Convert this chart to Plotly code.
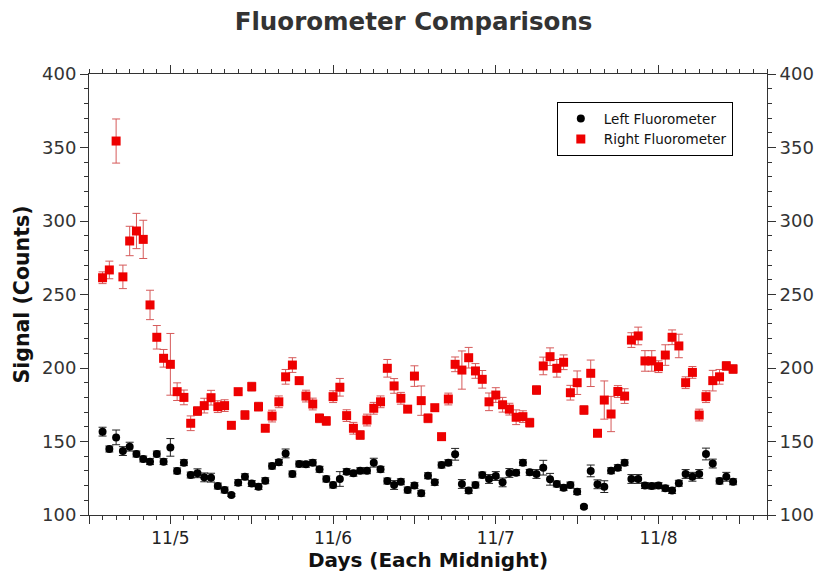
import pandas as pd
import plotly.graph_objects as go

# hourly sample times
times = pd.date_range("2011-11-04 14:00", periods=94, freq="h")

right_vals = [261.4, 266.7, 354.4, 262, 286.4, 293.2, 287.5, 242.9, 220.9, 206.6,
              202.5, 183.9, 180, 162.4, 170.7, 174.4, 179.8, 173.7, 174.4, 161,
              183.9, 168, 187.3, 173.7, 159, 167.3, 177, 194, 202, 191.4,
              180.9, 175.5, 165.8, 164, 180.5, 186.9, 167.6, 159, 154.4, 164.6,
              172.6, 177, 199.8, 187.8, 179.4, 172, 194.5, 177.8, 165.8, 173,
              153.3, 178.9, 202.5, 198.6, 207, 198, 192.3, 177, 181.6, 175,
              172, 166.5, 166.9, 162.8, 185, 201.4, 207.7, 199.8, 203.9, 183.2,
              190, 171.4, 196.4, 155.6, 178.2, 168.7, 184, 180.9, 219, 221.8,
              204.8, 204.8, 200.9, 208.8, 220.9, 215, 190, 197, 168, 180.5,
              191.4, 194, 201.4, 199.3]
right_err = [4, 6, 15, 8, 10, 12, 13, 10, 8, 6,
             21, 6, 5, 5, 3, 5, 5, 4, 4, 2,
             2, 3, 3, 3, 2, 4, 4, 5, 5, 2,
             4, 4, 3, 3, 4, 6, 4, 4, 3, 4,
             4, 4, 6, 5, 4, 2, 7, 10, 3, 2,
             1, 4, 5, 13, 7, 5, 6, 6, 5, 5,
             4, 5, 4, 3, 3, 6, 6, 6, 5, 5,
             8, 3, 9, 1, 13, 12, 4, 5, 5, 6,
             7, 7, 4, 7, 5, 8, 4, 4, 4, 4,
             7, 5, 3, 3]
left_vals = [156.7, 144.9, 152.8, 143.5, 146.5, 141.5, 138.1, 136.3, 141.5, 136.3,
             146, 130, 135.6, 127.2, 128.4, 125.6, 125.4, 119.7, 117, 113.6,
             122, 126, 121.4, 119.3, 123.3, 133.3, 135.8, 141.9, 127.9, 134.7,
             134.5, 135.6, 131.1, 124.5, 120.4, 124.5, 129.5, 128.4, 130.1, 130.1,
             135.6, 131.1, 123.1, 120.4, 122.6, 117, 120, 114.8, 126.7, 122.2,
             134, 135.6, 141.3, 121.1, 116.6, 120.4, 127.2, 124.5, 126.5, 122.2,
             128.6, 128.8, 135.6, 129, 127.9, 132.2, 124.3, 121.1, 118.6, 120.4,
             115.9, 105.6, 130, 120.9, 119.3, 130.1, 132.2, 135.6, 124.5, 124.5,
             120, 119.7, 120, 118.2, 116.6, 121.6, 127.9, 126, 127.9, 141.5,
             135, 123.1, 126, 122.6]
left_err = [3, 2, 5, 3, 3, 2, 2, 2, 2, 2,
            6, 2, 2, 2, 3, 3, 3, 2, 2, 1,
            2, 2, 2, 2, 2, 2, 2, 3, 2, 2,
            2, 2, 2, 2, 2, 5, 2, 2, 2, 2,
            3, 2, 2, 3, 2, 2, 2, 2, 2, 2,
            2, 2, 4, 3, 2, 2, 2, 3, 3, 3,
            3, 2, 2, 2, 3, 5, 4, 2, 2, 2,
            2, 1, 4, 3, 4, 2, 2, 2, 3, 3,
            2, 2, 2, 2, 2, 2, 3, 3, 3, 4,
            3, 2, 3, 2]

tick_times = pd.date_range("2011-11-04 12:00", "2011-11-08 12:00", freq="12h")
tick_text = ["" if t.hour == 12 else f"{t.month}/{t.day}" for t in tick_times]
x_range = ["2011-11-04 12:00", "2011-11-08 16:00"]
y_range = [100, 400]

fig = go.Figure()
fig.add_trace(go.Scatter(
    x=times, y=left_vals, mode="markers", name="Left Fluorometer",
    marker=dict(symbol="circle", size=8, color="black"),
    error_y=dict(type="data", array=left_err, color="#222222", thickness=1, width=4)))
fig.add_trace(go.Scatter(
    x=times, y=right_vals, mode="markers", name="Right Fluorometer",
    marker=dict(symbol="square", size=9, color="#ee0000"),
    error_y=dict(type="data", array=right_err, color="#d65a5a", thickness=1, width=4)))
fig.add_trace(go.Scatter(x=[], y=[], xaxis="x2", yaxis="y2", showlegend=False,
                         hoverinfo="skip"))

axis_common = dict(showgrid=False, zeroline=False, showline=True, linecolor="#333",
                   linewidth=1, ticks="outside", tickcolor="#333", automargin=False)
x_minor = dict(tickmode="linear", tick0="2011-11-04", dtick=7200000,
               ticklen=4, ticks="outside", tickcolor="#333")
y_minor = dict(dtick=10, ticklen=4, ticks="outside", tickcolor="#333")
fig.update_layout(
    width=819, height=572,
    margin=dict(l=89, r=52, t=74, b=57),
    paper_bgcolor="white", plot_bgcolor="white",
    font=dict(family="DejaVu Sans", color="#333"),
    title=dict(text="<b>Fluorometer Comparisons</b>", x=0.505, xanchor="center",
               y=0.962, yanchor="middle", font=dict(size=24.5, color="#333")),
    xaxis=dict(**axis_common, type="date", range=x_range, tickmode="array",
               tickvals=tick_times, ticktext=tick_text, ticklen=8, minor=x_minor,
               tickfont=dict(size=17, color="#222"),
               title=dict(text="<b>Days (Each Midnight)</b>",
                          font=dict(size=20, color="#111"), standoff=4)),
    xaxis2=dict(**axis_common, type="date", range=x_range, overlaying="x", side="top",
                tickmode="array", tickvals=tick_times, ticktext=tick_text, ticklen=8,
                showticklabels=False, minor=x_minor),
    yaxis=dict(**axis_common, range=y_range, dtick=50, ticklen=8, minor=y_minor,
               tickfont=dict(size=18, color="#333"),
               title=dict(text="<b>Signal (Counts)</b>",
                          font=dict(size=20.5, color="#111"), standoff=6)),
    yaxis2=dict(**axis_common, range=y_range, overlaying="y", side="right",
                dtick=50, ticklen=8, minor=y_minor,
                tickfont=dict(size=18, color="#333")),
    legend=dict(x=0.69, y=0.936, xanchor="left", yanchor="top",
                bordercolor="black", borderwidth=1, bgcolor="white",
                itemwidth=36,
                font=dict(size=13.5, color="#111"), tracegroupgap=0),
    showlegend=True,
)

fig.write_html("out.html")
